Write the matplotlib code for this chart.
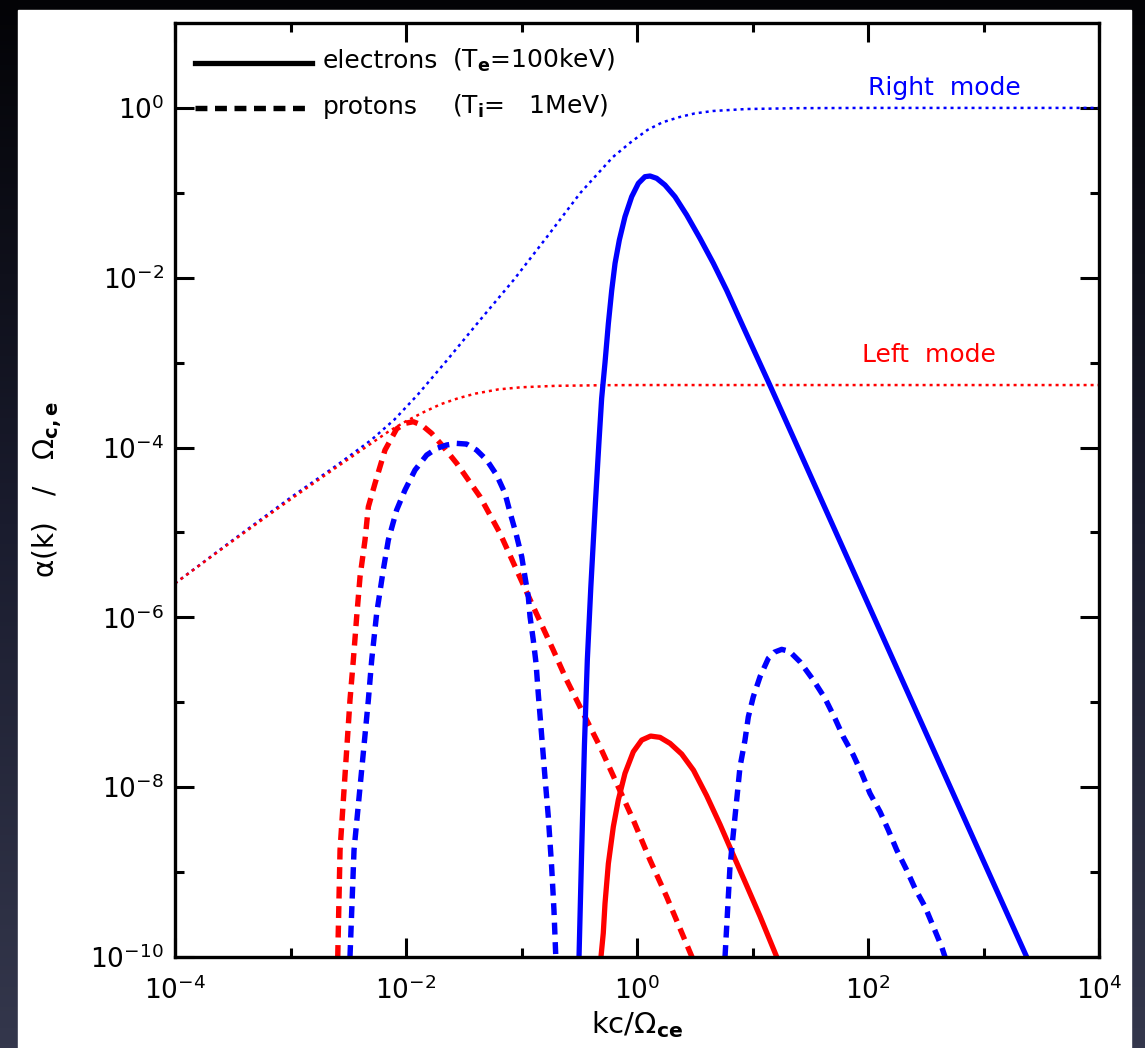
import numpy as np
import matplotlib
matplotlib.use("Agg")
import matplotlib.pyplot as plt
from matplotlib.patches import Rectangle
from matplotlib.colors import LinearSegmentedColormap
from matplotlib.lines import Line2D
from matplotlib.ticker import NullFormatter

plt.rcParams["font.family"] = ["DejaVu Sans"]
plt.rcParams["mathtext.fontset"] = "dejavusans"

# ---- data (log10 of kc/Omega_ce and of alpha(k)/Omega_ce) ----
# cold-plasma dispersion branches (dotted)
right_mode_logk = [-4.0, -3.5, -3.0, -2.6, -2.3, -2.1, -1.9, -1.65, -1.36, -1.07,
                   -0.78, -0.49, -0.21, -0.05, 0.09, 0.22, 0.37, 0.5, 0.66, 0.95,
                   1.4, 2.0, 4.0]
right_mode_loga = [-5.60, -5.09, -4.59, -4.21, -3.91, -3.67, -3.38, -2.98, -2.50, -2.03,
                   -1.52, -1.00, -0.58, -0.40, -0.26, -0.17, -0.107, -0.065, -0.036, -0.013,
                   -0.003, 0.0, 0.0]

left_mode_logk = [-4.0, -3.5, -3.0, -2.6, -2.3, -2.15, -2.0, -1.85, -1.7, -1.55,
                  -1.4, -1.2, -1.0, -0.7, -0.3, 0.0, 4.0]
left_mode_loga = [-5.60, -5.10, -4.61, -4.23, -3.95, -3.81, -3.69, -3.585, -3.49, -3.42,
                  -3.365, -3.315, -3.29, -3.273, -3.266, -3.264, -3.264]

# electrons, right mode (blue solid)
e_right_logk = [-0.502, -0.48, -0.455, -0.43, -0.40, -0.36, -0.33, -0.306, -0.277, -0.248,
                -0.219, -0.19, -0.153, -0.104, -0.046, 0.012, 0.069, 0.113, 0.17, 0.242,
                0.329, 0.43, 0.545, 0.661, 0.777, 0.92, 1.15, 1.96, 2.97, 3.374]
e_right_loga = [-10.0, -8.8, -7.5, -6.5, -5.65, -4.65, -3.95, -3.42, -3.0, -2.54,
                -2.15, -1.83, -1.556, -1.281, -1.046, -0.888, -0.81, -0.802, -0.829, -0.908,
                -1.046, -1.261, -1.536, -1.83, -2.15, -2.58, -3.264, -5.72, -8.78, -10.0]

# electrons, left mode (red solid)
e_left_logk = [-0.312, -0.292, -0.277, -0.248, -0.205, -0.162, -0.104, -0.032, 0.041, 0.118,
               0.199, 0.286, 0.387, 0.489, 0.603, 0.719, 0.834, 0.95, 1.065, 1.21]
e_left_loga = [-10.0, -9.72, -9.37, -8.90, -8.466, -8.152, -7.837, -7.583, -7.445, -7.398,
               -7.413, -7.484, -7.61, -7.80, -8.10, -8.44, -8.80, -9.16, -9.52, -10.0]

# protons, left mode (red dashed)
p_left_logk = [-2.591, -2.571, -2.485, -2.456, -2.427, -2.398, -2.355, -2.326, -2.268, -2.182,
               -2.081, -2.009, -1.937, -1.864, -1.778, -1.677, -1.561, -1.359, -1.186, -1.042,
               -0.898, -0.725, -0.609, -0.465, -0.32, -0.176, -0.032, 0.113, 0.257, 0.476]
p_left_loga = [-10.0, -8.74, -6.974, -6.503, -5.993, -5.522, -5.09, -4.698, -4.421, -4.03,
               -3.78, -3.715, -3.696, -3.735, -3.833, -3.99, -4.186, -4.579, -5.01, -5.443,
               -5.875, -6.385, -6.739, -7.131, -7.524, -7.955, -8.387, -8.859, -9.291, -10.0]

# protons, right mode (blue dashed) - low-k bump
p_right_a_logk = [-2.485, -2.45, -2.326, -2.297, -2.254, -2.197, -2.153, -2.081, -2.009, -1.922,
                  -1.821, -1.734, -1.648, -1.561, -1.475, -1.389, -1.301, -1.215, -1.143, -1.093,
                  -1.048, -0.998, -0.97, -0.941, -0.926, -0.898, -0.874, -0.855, -0.827, -0.797,
                  -0.768, -0.739, -0.719, -0.703]
p_right_a_loga = [-10.0, -8.74, -6.974, -6.503, -5.953, -5.443, -5.09, -4.736, -4.501, -4.265,
                  -4.088, -4.01, -3.970, -3.951, -3.959, -4.03, -4.147, -4.324, -4.539, -4.795,
                  -5.01, -5.286, -5.521, -5.757, -5.993, -6.267, -6.542, -6.896, -7.366, -7.877,
                  -8.348, -8.937, -9.447, -10.0]

# protons, right mode (blue dashed) - high-k bump
p_right_b_logk = [0.762, 0.805, 0.834, 0.863, 0.892, 0.935, 0.964, 1.007, 1.065, 1.137,
                  1.19, 1.253, 1.32, 1.411, 1.527, 1.628, 1.714, 1.786, 1.873, 1.946,
                  2.017, 2.104, 2.176, 2.249, 2.335, 2.407, 2.494, 2.566, 2.638, 2.667]
p_right_b_loga = [-10.0, -8.937, -8.544, -8.152, -7.759, -7.445, -7.171, -6.935, -6.700, -6.483,
                  -6.41, -6.377, -6.40, -6.523, -6.739, -6.954, -7.190, -7.406, -7.622, -7.838,
                  -8.073, -8.289, -8.505, -8.741, -8.976, -9.192, -9.408, -9.644, -9.880, -10.0]

xtick_vals = [1e-4, 1e-2, 1e0, 1e2, 1e4]
xtick_labels = ["10$^{-4}$", "10$^{-2}$", "10$^{0}$", "10$^{2}$", "10$^{4}$"]
xminor_vals = [1e-3, 1e-1, 1e1, 1e3]
ytick_vals = [1e-10, 1e-8, 1e-6, 1e-4, 1e-2, 1e0]
ytick_labels = ["10$^{-10}$", "10$^{-8}$", "10$^{-6}$", "10$^{-4}$", "10$^{-2}$", "10$^{0}$"]
yminor_vals = [1e-9, 1e-7, 1e-5, 1e-3, 1e-1]

legend_names = ["electrons", "protons"]
legend_temps = ["(T$_{\\mathbf{e}}$=100keV)", "(T$_{\\mathbf{i}}$=   1MeV)"]

BLUE = "#0000ff"
RED = "#ff0000"


def pw(v):
    return np.power(10.0, np.asarray(v, dtype=float))


W, H = 1145, 1048
fig = plt.figure(figsize=(W / 100, H / 100), dpi=100)

# dark slide frame with a white panel
bg = fig.add_axes([0, 0, 1, 1], zorder=-10)
frame_cmap = LinearSegmentedColormap.from_list("frame", ["#030306", "#1a1c2e", "#34374c"])
bg.imshow(np.linspace(0, 1, 256)[:, None], cmap=frame_cmap, aspect="auto",
          extent=[0, 1, 0, 1], origin="upper")
bg.add_patch(Rectangle((18 / W, 0), (1131 - 18) / W, (H - 10) / H, color="white"))
bg.set_xlim(0, 1)
bg.set_ylim(0, 1)
bg.axis("off")

ax = fig.add_axes([175 / W, (H - 957) / H, (1099 - 175) / W, (957 - 23) / H])
ax.set_facecolor("white")
ax.set_xscale("log")
ax.set_yscale("log")
ax.set_xlim(1e-4, 1e4)
ax.set_ylim(1e-10, 1e1)

dot = dict(lw=1.8, dashes=(1.2, 1.6), dash_capstyle="butt")
dash = dict(lw=3.9, dashes=(2.2, 1.4), dash_capstyle="butt", dash_joinstyle="round")
solid = dict(lw=3.8, solid_capstyle="butt", solid_joinstyle="round")

ax.plot(pw(right_mode_logk), pw(right_mode_loga), color=BLUE, **dot)
ax.plot(pw(left_mode_logk), pw(left_mode_loga), color=RED, **dot)
ax.plot(pw(p_left_logk), pw(p_left_loga), color=RED, **dash)
ax.plot(pw(e_left_logk), pw(e_left_loga), color=RED, **solid)
ax.plot(pw(p_right_a_logk), pw(p_right_a_loga), color=BLUE, **dash)
ax.plot(pw(p_right_b_logk), pw(p_right_b_loga), color=BLUE, **dash)
ax.plot(pw(e_right_logk), pw(e_right_loga), color=BLUE, **solid)

# axes styling
for s in ax.spines.values():
    s.set_linewidth(2.4)
ax.set_xticks(xtick_vals)
ax.set_xticklabels(xtick_labels)
ax.set_xticks(xminor_vals, minor=True)
ax.set_yticks(ytick_vals)
ax.set_yticklabels(ytick_labels)
ax.set_yticks(yminor_vals, minor=True)
ax.xaxis.set_minor_formatter(NullFormatter())
ax.yaxis.set_minor_formatter(NullFormatter())
ax.tick_params(which="both", direction="in", top=True, right=True, width=2.2, labelsize=19)
ax.tick_params(which="major", length=14)
ax.tick_params(which="minor", length=6.5)
ax.tick_params(axis="x", pad=14)
ax.tick_params(axis="y", pad=8)

ax.set_xlabel("kc/Ω$_{\\mathbf{ce}}$", fontsize=21)
ax.xaxis.set_label_coords(0.5, -0.056)
ax.set_ylabel("α(k)   /   Ω$_{\\mathbf{c,e}}$", fontsize=20)
ax.yaxis.set_label_coords(-0.120, 0.50)

# mode annotations
ax.text(0.75, 0.930, "Right  mode", color=BLUE, fontsize=18, transform=ax.transAxes,
        ha="left", va="center")
ax.text(0.7435, 0.6445, "Left  mode", color=RED, fontsize=18, transform=ax.transAxes,
        ha="left", va="center")

# legend keys
key_styles = [dict(lw=3.8), dict(lw=3.9, dashes=(2.2, 1.4), dash_capstyle="butt")]
key_y = [0.9575, 0.9090]
for style, yk, name, temp in zip(key_styles, key_y, legend_names, legend_temps):
    ax.add_line(Line2D([0.0216, 0.1483], [yk, yk], color="black",
                       transform=ax.transAxes, clip_on=False, **style))
    ax.text(0.160, yk - 0.006, name, fontsize=18, transform=ax.transAxes,
            ha="left", va="baseline")
    ax.text(0.2998, yk - 0.006, temp, fontsize=18, transform=ax.transAxes,
            ha="left", va="baseline")

fig.savefig("out.png", dpi=100)
